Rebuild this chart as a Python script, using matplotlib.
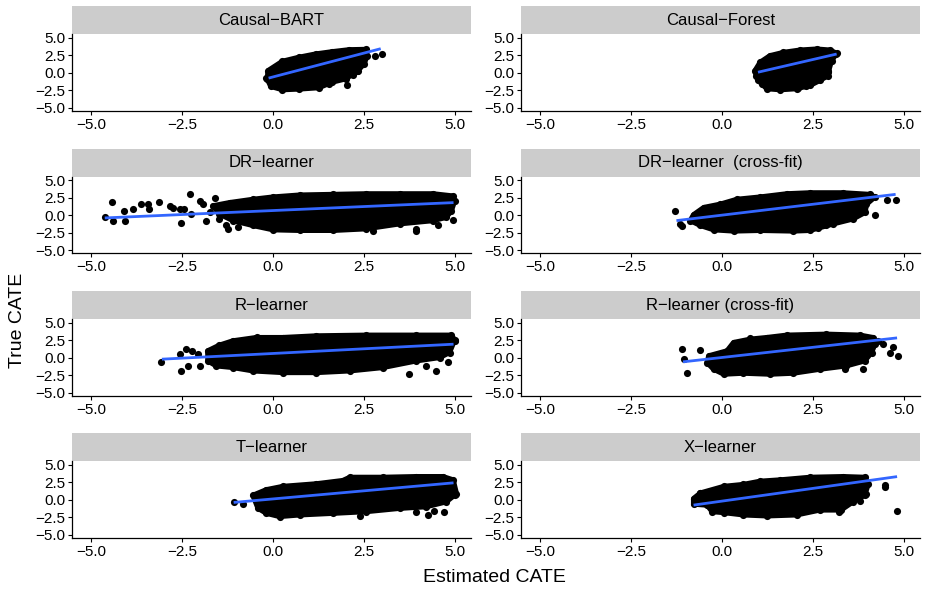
import numpy as np
import matplotlib
matplotlib.use("Agg")
import matplotlib.pyplot as plt
from matplotlib.patches import Polygon, Rectangle

plt.rcParams['font.family'] = ['Liberation Sans', 'DejaVu Sans']

# facet order (row by row, two columns)
titles = ["Causal\u2212BART", "Causal\u2212Forest",
          "DR\u2212learner", "DR\u2212learner  (cross-fit)",
          "R\u2212learner", "R\u2212learner (cross-fit)",
          "T\u2212learner", "X\u2212learner"]

tick_vals = [-5.0, -2.5, 0.0, 2.5, 5.0]
tick_labels = ["\u22125.0", "\u22122.5", "0.0", "2.5", "5.0"]

# outline of the dense part of each point cloud (estimated, true)
bart_hull_x = [-0.16, -0.13, 0.26, 0.71, 1.17, 1.63, 2.09, 2.55, 2.59, 2.50, 2.32, 2.00, 1.63, 1.26, 0.71, 0.26, -0.06]
bart_hull_y = [-0.85, 0.33, 1.65, 2.22, 2.69, 3.02, 3.30, 3.35, 2.45, 1.27, 0.24, -0.85, -1.32, -2.12, -2.31, -2.41, -1.93]
bart_pts_x = [2.99, 2.80, 2.04, 2.34, -0.20, 1.55, 2.20]
bart_pts_y = [2.69, 2.45, -1.79, 0.33, -0.71, -1.60, -0.30]
bart_fit_x = [-0.12, 2.96]
bart_fit_y = [-0.75, 3.45]

forest_hull_x = [0.91, 1.05, 1.32, 1.69, 2.14, 2.60, 2.97, 3.15, 3.01, 2.92, 2.92, 2.69, 2.42, 2.05, 1.60, 1.23, 1.09, 1.00, 0.94]
forest_hull_y = [0.33, 1.51, 2.45, 2.92, 3.25, 3.40, 3.25, 2.78, 1.75, 0.09, -0.38, -1.08, -1.79, -2.26, -2.41, -2.26, -1.56, -1.08, -0.38]
forest_pts_x = [3.12, 2.90, 2.30, 2.10]
forest_pts_y = [2.69, 0.30, -1.90, -2.20]
forest_fit_x = [0.99, 3.15]
forest_fit_y = [0.09, 2.69]

dr_hull_x = [-1.19, -0.55, 0.00, 0.73, 1.65, 2.56, 3.48, 4.40, 4.95, 4.99, 4.90, 4.76, 4.40, 3.48, 2.56, 1.65, 0.73, 0.00, -0.55, -1.10, -1.47, -1.65]
dr_hull_y = [1.82, 2.29, 2.62, 2.90, 2.99, 3.08, 3.08, 3.08, 2.76, 2.06, 0.65, -0.28, -0.75, -1.21, -1.92, -2.15, -2.15, -2.06, -1.45, -0.75, 0.19, 1.36]
dr_pts_x = [-4.62, -4.41, -4.39, -4.10, -4.07, -3.85, -3.62, -3.44, -3.41, -3.13, -2.84, -2.75, -2.56, -2.52,
            -2.29, -2.43, -2.24, -2.01, -1.92, -1.83, -1.60, -1.47, -1.28, -1.24, -0.96, -1.74,
            2.75, 3.94, 3.94, 4.53, 4.95, 4.30, 4.67]
dr_pts_y = [-0.19, 1.92, -0.75, 0.65, -0.75, 0.89, 1.59, 1.68, 0.89, 1.87, 1.36, 1.12, 0.89, -1.03,
            2.99, 0.89, 0.19, 2.06, 1.59, -0.75, 2.52, -0.51, -1.45, -1.92, -1.68, 0.42,
            -2.24, -1.92, -2.24, -1.45, -0.65, -0.51, -0.05]
dr_fit_x = [-4.62, 4.96]
dr_fit_y = [-0.37, 1.82]

drcf_hull_x = [-0.78, -0.50, -0.05, 0.41, 1.05, 1.78, 2.42, 3.33, 4.06, 4.20, 3.97, 3.93, 3.60, 3.06, 2.42, 1.96, 1.05, 0.32, -0.23, -0.59, -0.87]
drcf_hull_y = [0.09, 1.12, 1.59, 2.29, 2.62, 3.08, 3.22, 3.22, 2.99, 2.62, 1.59, 0.42, -0.51, -1.21, -2.15, -2.24, -2.15, -2.24, -2.06, -1.45, -0.75]
drcf_pts_x = [-1.28, -1.09, -1.14, 4.54, 4.79, 4.20, 2.87, 2.65]
drcf_pts_y = [0.56, -1.59, -1.21, 2.15, 2.15, 0.09, -1.45, -1.78]
drcf_fit_x = [-1.25, 4.77]
drcf_fit_y = [-0.75, 3.00]

r_hull_x = [-1.79, -1.47, -1.10, -0.46, 0.27, 1.19, 2.56, 3.94, 4.90, 4.99, 4.85, 4.58, 3.94, 3.02, 2.11, 1.19, 0.27, -0.55, -1.10, -1.56, -1.79]
r_hull_y = [1.00, 1.81, 2.43, 2.90, 2.90, 3.14, 3.24, 3.24, 3.24, 2.57, 0.76, 0.05, -0.43, -1.38, -1.86, -2.10, -2.10, -1.86, -1.38, -1.14, -0.43]
r_pts_x = [-3.07, -2.56, -2.52, -2.40, -2.34, -2.22, -2.06, -2.01, -0.44, 3.75, 4.49, 4.81, 4.21, 4.99]
r_pts_y = [-0.57, 0.52, -1.86, 1.33, -1.14, 1.00, 0.52, -1.14, 3.00, -2.33, -1.86, -0.57, -1.14, 2.43]
r_fit_x = [-3.05, 4.96]
r_fit_y = [-0.19, 1.95]

rcf_hull_x = [-0.36, 0.14, 0.32, 0.78, 1.23, 1.78, 2.87, 3.79, 4.15, 4.20, 4.11, 3.92, 3.42, 2.69, 1.96, 1.32, 0.59, 0.05, -0.23, -0.41]
rcf_hull_y = [0.29, 1.00, 2.19, 2.67, 2.90, 3.24, 3.38, 3.24, 2.90, 1.95, 0.76, -0.43, -1.14, -1.62, -2.19, -2.33, -2.19, -2.33, -1.62, -0.67]
rcf_pts_x = [-1.09, -1.03, -0.96, -0.61, 0.78, 3.88, 3.38, 4.43, 4.70, 4.61, 4.84, 4.29]
rcf_pts_y = [1.24, -0.19, -2.19, 1.10, 2.90, -1.62, -1.62, 1.95, 1.48, 0.76, 0.29, 2.43]
rcf_fit_x = [-1.07, 4.81]
rcf_fit_y = [-0.57, 2.85]

t_hull_x = [-0.55, -0.18, 0.27, 1.19, 1.92, 2.11, 3.02, 3.94, 4.67, 4.95, 5.04, 4.76, 4.21, 3.48, 2.56, 1.65, 0.73, 0.18, -0.18, -0.41]
t_hull_y = [0.65, 1.45, 1.92, 2.29, 2.76, 3.22, 3.22, 3.32, 3.32, 2.85, 0.89, -0.28, -0.98, -1.21, -1.68, -1.92, -2.15, -2.38, -1.92, -1.21]
t_pts_x = [-1.08, -0.82, 2.40, 3.92, 4.26, 4.41, 4.69, 4.95, 4.99]
t_pts_y = [-0.37, -0.61, -2.24, -1.78, -2.15, -1.59, -1.68, 1.59, 0.65]
t_fit_x = [-1.08, 4.96]
t_fit_y = [-0.37, 2.43]

x_hull_x = [-0.78, -0.59, 0.05, 0.59, 1.05, 1.60, 2.42, 3.33, 3.92, 4.02, 3.92, 3.60, 3.27, 2.69, 2.05, 1.23, 0.59, 0.05, -0.27, -0.41, -0.78]
x_hull_y = [0.19, 0.98, 1.92, 2.20, 2.66, 2.85, 3.22, 3.32, 3.22, 2.29, 0.65, -0.28, -1.45, -1.45, -2.15, -2.29, -2.15, -1.82, -1.68, -0.75, -0.61]
x_pts_x = [-0.61, 3.79, 3.97, 4.47, 4.47, 4.81, 3.22]
x_pts_y = [0.98, -0.14, 0.79, 2.15, 1.82, -1.59, -1.68]
x_fit_x = [-0.78, 4.81]
x_fit_y = [-0.75, 3.32]

clouds = [
    (bart_hull_x, bart_hull_y, bart_pts_x, bart_pts_y, bart_fit_x, bart_fit_y),
    (forest_hull_x, forest_hull_y, forest_pts_x, forest_pts_y, forest_fit_x, forest_fit_y),
    (dr_hull_x, dr_hull_y, dr_pts_x, dr_pts_y, dr_fit_x, dr_fit_y),
    (drcf_hull_x, drcf_hull_y, drcf_pts_x, drcf_pts_y, drcf_fit_x, drcf_fit_y),
    (r_hull_x, r_hull_y, r_pts_x, r_pts_y, r_fit_x, r_fit_y),
    (rcf_hull_x, rcf_hull_y, rcf_pts_x, rcf_pts_y, rcf_fit_x, rcf_fit_y),
    (t_hull_x, t_hull_y, t_pts_x, t_pts_y, t_fit_x, t_fit_y),
    (x_hull_x, x_hull_y, x_pts_x, x_pts_y, x_fit_x, x_fit_y),
]

W, H = 925, 593
fig = plt.figure(figsize=(W / 100, H / 100), dpi=100)

col_left = [72, 521]
panel_w = 399
panel_h = 77
strip_h = 28
row_bottom = [111, 253.5, 396, 538]

dot = 6.5 * 0.72  # marker diameter in points

for i, (title, cloud) in enumerate(zip(titles, clouds)):
    r, c = divmod(i, 2)
    ax = fig.add_axes([col_left[c] / W, 1 - row_bottom[r] / H, panel_w / W, panel_h / H])
    hx, hy, px, py, fx, fy = cloud

    # dense core of the cloud, with its edge points on top
    poly = Polygon(np.column_stack([hx, hy]), closed=True, facecolor='black',
                   edgecolor='black', linewidth=dot * 0.8, joinstyle='round', zorder=2)
    ax.add_patch(poly)
    ax.scatter(hx + px, hy + py, s=(dot * 1.1) ** 2, color='black', linewidths=0, zorder=2)
    ax.plot(fx, fy, color='#3366FF', lw=2, solid_capstyle='butt', zorder=3)

    ax.set_xlim(-5.52, 5.44)
    ax.set_ylim(-5.45, 5.55)
    ax.set_xticks(tick_vals)
    ax.set_xticklabels(tick_labels)
    ax.set_yticks(tick_vals)
    ax.set_yticklabels(tick_labels)
    ax.tick_params(labelsize=11, length=3, width=0.8, pad=2, colors='black')
    for side in ['top', 'right']:
        ax.spines[side].set_visible(False)
    for side in ['left', 'bottom']:
        ax.spines[side].set_linewidth(0.9)

    # facet strip
    ax.add_patch(Rectangle((0, 1), 1, strip_h / panel_h, transform=ax.transAxes,
                           facecolor='#cccccc', edgecolor='none', clip_on=False))
    ax.text(0.5, 1 + strip_h / panel_h / 2, title, transform=ax.transAxes,
            ha='center', va='center', fontsize=12)

fig.text(18 / W, 1 - 320 / H, "True CATE", rotation=90, ha='center', va='center', fontsize=14)
fig.text(494 / W, 1 - 578 / H, "Estimated CATE", ha='center', va='center', fontsize=14)

fig.savefig("out.png", dpi=100)
